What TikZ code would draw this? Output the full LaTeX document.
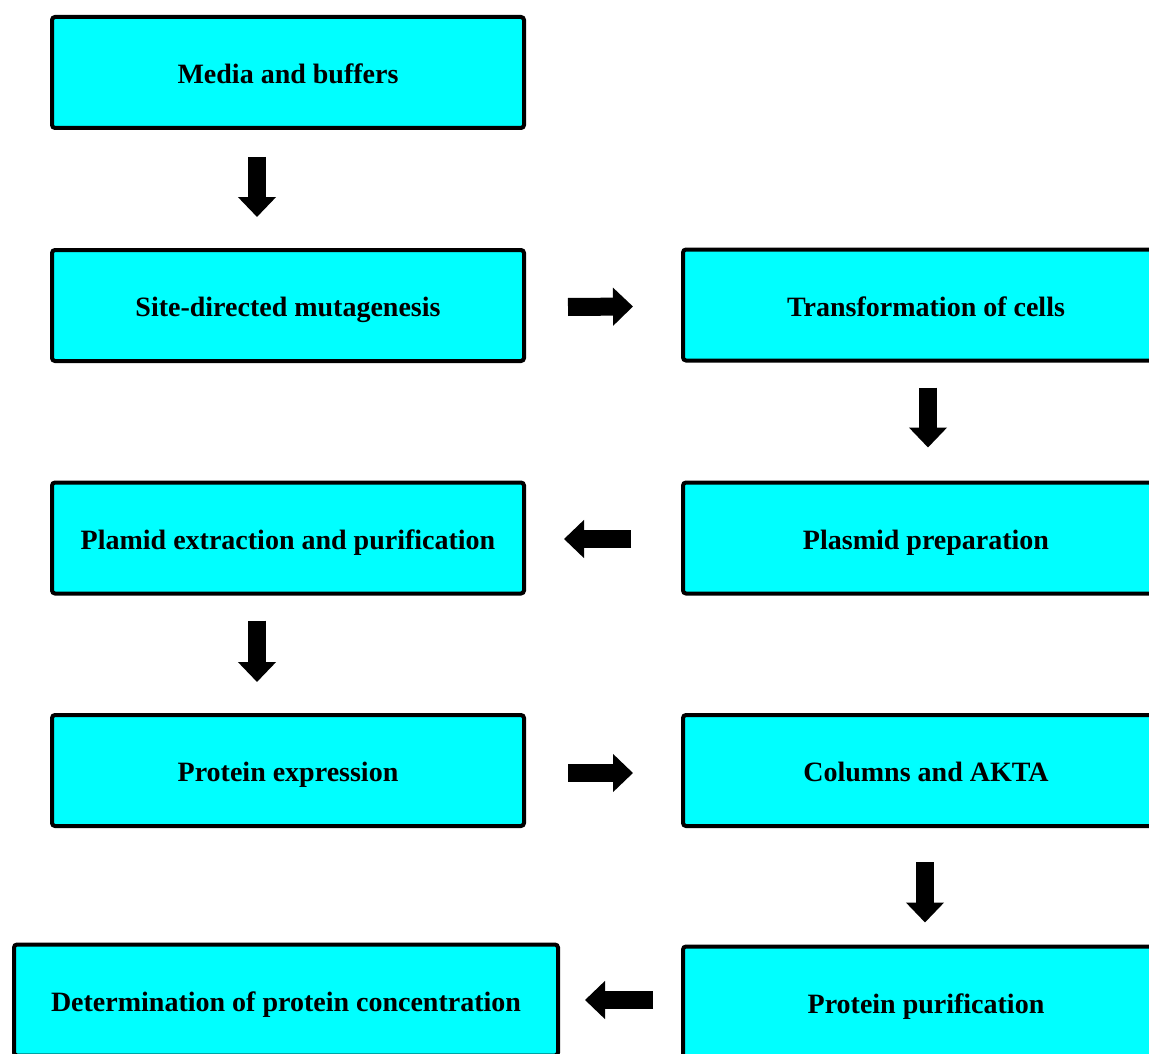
\documentclass[tikz,border=0pt]{standalone}
\usepackage{fontspec}
\setmainfont{Liberation Serif}
\usetikzlibrary{arrows.meta, positioning, calc}

\definecolor{boxcyan}{RGB}{0,255,255}
\tikzset{
  stepbox/.style={draw=black, fill=boxcyan, line width=4pt, rounded corners=3pt,
    minimum width=472pt, minimum height=111pt, inner sep=0pt,
    text height=26pt, text depth=4pt,
    font=\bfseries\fontsize{28}{32}\selectfont},
  blockarrow/.style={line width=18pt, -{Triangle[width=37pt,length=20pt]}}
}

\begin{document}
\begin{tikzpicture}[x=1pt,y=-1pt]
    \useasboundingbox (0,0) rectangle (1149,1054);
    \path[clip] (0,0) rectangle (1149,1054);

    % Left column
    \node[stepbox] (media) at (288,72.5) {Media and buffers};
    \node[stepbox] (mutagenesis) at (288,305.5) {Site-directed mutagenesis};
    \node[stepbox] (extraction) at (288,538) {Plamid extraction and purification};
    \node[stepbox] (expression) at (288,770.5) {Protein expression};
    \node[stepbox,minimum width=544pt] (concentration) at (286,1000) {Determination of protein concentration};

    % Right column
    \node[stepbox,minimum width=486pt] (transform) at (926,305) {Transformation of cells};
    \node[stepbox,minimum width=486pt] (plasprep) at (926,538) {Plasmid preparation};
    \node[stepbox,minimum width=486pt] (akta) at (926,770.5) {Columns and AKTA};
    \node[stepbox,minimum width=486pt] (purification) at (926,1002) {Protein purification};

    % Arrows
    \draw[blockarrow] ([xshift=-31pt,yshift=-27pt]media.south) -- ([xshift=-31pt,yshift=31pt]mutagenesis.north);
    \draw[blockarrow] ([xshift=42pt,yshift=-1.5pt]mutagenesis.east) -- ([xshift=-48pt,yshift=-1.5pt]transform.west);
    \draw[blockarrow] ([xshift=2pt,yshift=-25pt]transform.south) -- ([xshift=2pt,yshift=33pt]plasprep.north);
    \draw[blockarrow] ([xshift=-50pt,yshift=-1pt]plasprep.west) -- ([xshift=38pt,yshift=-1pt]extraction.east);
    \draw[blockarrow] ([xshift=-31pt,yshift=-25pt]extraction.south) -- ([xshift=-31pt,yshift=31pt]expression.north);
    \draw[blockarrow] ([xshift=42pt,yshift=-2.5pt]expression.east) -- ([xshift=-48pt,yshift=-2.5pt]akta.west);
    \draw[blockarrow] ([xshift=-1pt,yshift=-34pt]akta.south) -- ([xshift=-1pt,yshift=22pt]purification.north);
    \draw[blockarrow] ([xshift=-28pt,yshift=2pt]purification.west) -- ([xshift=25pt]concentration.east);
\end{tikzpicture}
\end{document}
